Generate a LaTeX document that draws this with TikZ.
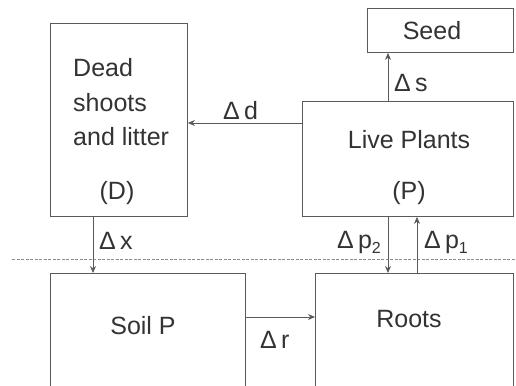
\documentclass[tikz,border=0pt]{standalone}
\usepackage{fontspec}
\setmainfont{Liberation Sans}
\usetikzlibrary{arrows.meta}
\definecolor{ink}{HTML}{333333}
\definecolor{edge}{HTML}{5A5A5A}
\newcommand{\lowidx}[1]{\raisebox{-5pt}{\fontsize{16}{16}\selectfont #1}}
\tikzset{
  box/.style={draw=edge, line width=0.9pt, rectangle, anchor=north west, inner sep=0pt},
  lbl/.style={text=ink, font=\fontsize{25}{29}\selectfont, inner sep=0pt},
  flow/.style={draw=edge, line width=0.8pt, -{Stealth[length=7pt,width=6pt]}},
  soilline/.style={draw=edge!70, line width=0.8pt, dash pattern=on 3pt off 1.5pt}
}
\begin{document}
\begin{tikzpicture}[x=1pt, y=-1pt]
  \clip (0,0) rectangle (516,385);
  \fill[white] (0,0) rectangle (516,385);

  % compartments
  \node[box, minimum width=137pt, minimum height=193pt] (D) at (50,23) {};
  \node[box, minimum width=146pt, minimum height=44pt] (S) at (367,8) {};
  \node[box, minimum width=211pt, minimum height=115pt] (P) at (302,101) {};
  \node[box, minimum width=195pt, minimum height=140pt] (SP) at (50,273) {};
  \node[box, minimum width=198pt, minimum height=140pt] (R) at (315,273) {};

  % compartment texts
  \node[lbl, anchor=base west] (d1) at (73,77) {Dead};
  \node[lbl, anchor=base west] (d2) at (73,111) {shoots};
  \node[lbl, anchor=base west] (d3) at (73,145) {and litter};
  \node[lbl, anchor=base] (d4) at (117,199) {(D)};
  \node[lbl, anchor=base] (s1) at (432,40) {Seed};
  \node[lbl, anchor=base] (p1) at (409,148) {Live Plants};
  \node[lbl, anchor=base] (p2) at (409,199) {(P)};
  \node[lbl, anchor=base] (sp1) at (143,334) {Soil P};
  \node[lbl, anchor=base] (r1) at (409,327) {Roots};

  % soil surface
  \coordinate (g1) at (12,259);
  \coordinate (g2) at (516,259);
  \draw[soilline] (g1) -- (g2);

  % flow anchor points
  \coordinate (yd) at (0,123);
  \coordinate (xs) at (388,0);
  \coordinate (xx) at (93,0);
  \coordinate (xp2) at (388,0);
  \coordinate (xp1) at (417,0);
  \coordinate (yr) at (0,317);

  % flows
  \draw[flow] (P.west |- yd) -- (D.east |- yd);
  \draw[flow] (P.north -| xs) -- (S.south -| xs);
  \draw[flow] (D.south -| xx) -- (SP.north -| xx);
  \draw[flow] (P.south -| xp2) -- (R.north -| xp2);
  \draw[flow] (R.north -| xp1) -- (P.south -| xp1);
  \draw[flow] (SP.east |- yr) -- (R.west |- yr);

  % flow labels
  \node[lbl, anchor=base west] (ld) at (223,120) {Δ\,d};
  \node[lbl, anchor=base west] (ls) at (394,92) {Δ\,s};
  \node[lbl, anchor=base west] (lx) at (99,249) {Δ\,x};
  \node[lbl, anchor=base west] (lp2) at (337,248) {Δ\,p\lowidx{2}};
  \node[lbl, anchor=base west] (lp1) at (424,248) {Δ\,p\lowidx{1}};
  \node[lbl, anchor=base west] (lr) at (260,348) {Δ\,r};
\end{tikzpicture}
\end{document}
